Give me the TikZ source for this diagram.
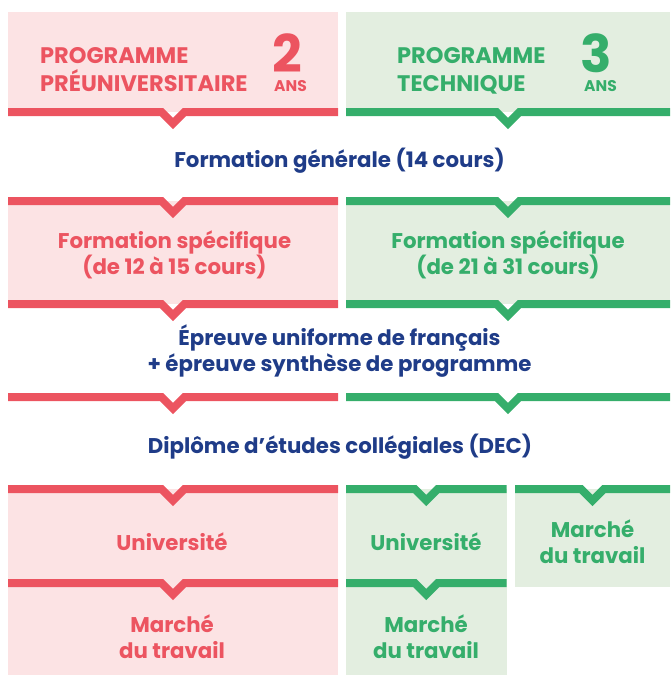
\documentclass[tikz,border=0pt]{standalone}
\usepackage{fontspec}
\setmainfont{Poppins}
\usetikzlibrary{calc}
\definecolor{progred}{HTML}{EC5460}
\definecolor{progpink}{HTML}{FCE3E4}
\definecolor{proggreen}{HTML}{35AE6B}
\definecolor{progmint}{HTML}{E3EEE0}
\definecolor{prognavy}{HTML}{1F3C88}
% bar with a chevron in its middle
\newcommand{\chevbar}[3]{\draw[#1] (#2) -- ($(#2)!0.5!(#3)+(-11.5,0)$) -- ++(11.5,11.5) -- ++(11.5,-11.5) -- (#3);}

\begin{document}
\begin{tikzpicture}[x=1pt,y=-1pt]
    \tikzstyle{redbox}=[fill=progpink,inner sep=0pt,outer sep=0pt]
    \tikzstyle{greenbox}=[fill=progmint,inner sep=0pt,outer sep=0pt]
    \tikzstyle{redbar}=[progred,line width=8pt,miter limit=4]
    \tikzstyle{greenbar}=[proggreen,line width=8pt,miter limit=4]
    \tikzstyle{txt}=[inner sep=0pt,align=center,anchor=base,font=\bfseries\fontsize{21.3}{26}\selectfont]
    \tikzstyle{head}=[inner sep=0pt,align=left,anchor=base west,font=\bfseries\fontsize{22.5}{28}\selectfont]
    \tikzstyle{bignum}=[inner sep=0pt,anchor=base,text depth=0pt,font=\bfseries\fontsize{52}{52}\selectfont]
    \tikzstyle{ans}=[inner sep=0pt,anchor=base,text height=11pt,font=\bfseries\fontsize{15.5}{15.5}\selectfont]
    \useasboundingbox (0,0) rectangle (670,675);
    % boxes
    \node[redbox,minimum width=330,minimum height=100] (pre) at (173,62) {};
    \node[greenbox,minimum width=324,minimum height=100] (tec) at (508,62) {};
    \node[redbox,minimum width=330,minimum height=103] (speA) at (173,252.5) {};
    \node[greenbox,minimum width=324,minimum height=103] (speB) at (508,252.5) {};
    \coordinate (dipA1) at (8,397);
    \coordinate (dipA2) at (338,397);
    \coordinate (dipB1) at (346,397);
    \coordinate (dipB2) at (670,397);
    \node[redbox,minimum width=330,minimum height=94] (uniA) at (173,536) {};
    \node[redbox,minimum width=330,minimum height=92] (marA) at (173,629) {};
    \node[greenbox,minimum width=160.5,minimum height=94] (uniB) at (426.25,536) {};
    \node[greenbox,minimum width=160.5,minimum height=92] (marB) at (426.25,629) {};
    \node[greenbox,minimum width=155,minimum height=98] (marC) at (592.5,538) {};
    % bars
    \chevbar{redbar}{pre.south west}{pre.south east}
    \chevbar{greenbar}{tec.south west}{tec.south east}
    \chevbar{redbar}{speA.north west}{speA.north east}
    \chevbar{greenbar}{speB.north west}{speB.north east}
    \chevbar{redbar}{speA.south west}{speA.south east}
    \chevbar{greenbar}{speB.south west}{speB.south east}
    \chevbar{redbar}{dipA1}{dipA2}
    \chevbar{greenbar}{dipB1}{dipB2}
    \chevbar{redbar}{uniA.north west}{uniA.north east}
    \chevbar{redbar}{marA.north west}{marA.north east}
    \chevbar{greenbar}{uniB.north west}{uniB.north east}
    \chevbar{greenbar}{marB.north west}{marB.north east}
    \chevbar{greenbar}{marC.north west}{marC.north east}
    % texts (base of a two-line node = last line)
    \node[head,progred] (preT) at (40,91) {PROGRAMME\\PRÉUNIVERSITAIRE};
    \node[bignum,progred] (preN) at (287.5,72) {2};
    \node[ans,progred] (preY) at (290.5,91) {ANS};
    \node[head,proggreen] (tecT) at (397,91) {PROGRAMME\\TECHNIQUE};
    \node[bignum,proggreen] (tecN) at (596.5,72) {3};
    \node[ans,proggreen] (tecY) at (600.5,91) {ANS};
    \node[txt,prognavy] (gen) at (339.5,167) {Formation générale (14 cours)};
    \node[txt,progred] (speAT) at (174.5,274) {Formation spécifique\\(de 12 à 15 cours)};
    \node[txt,proggreen] (speBT) at (508,274) {Formation spécifique\\(de 21 à 31 cours)};
    \node[txt,prognavy] (epr) at (339.5,371) {Épreuve uniforme de français\\+ épreuve synthèse de programme};
    \node[txt,prognavy] (dec) at (340,453) {Diplôme d’études collégiales (DEC)};
    \node[txt,progred] (uniAT) at (172,550) {Université};
    \node[txt,proggreen] (uniBT) at (426,550) {Université};
    \node[txt,progred] (marAT) at (172,658) {Marché\\du travail};
    \node[txt,proggreen] (marBT) at (426,658) {Marché\\du travail};
    \node[txt,proggreen] (marCT) at (592.5,563) {Marché\\du travail};
\end{tikzpicture}
\end{document}
